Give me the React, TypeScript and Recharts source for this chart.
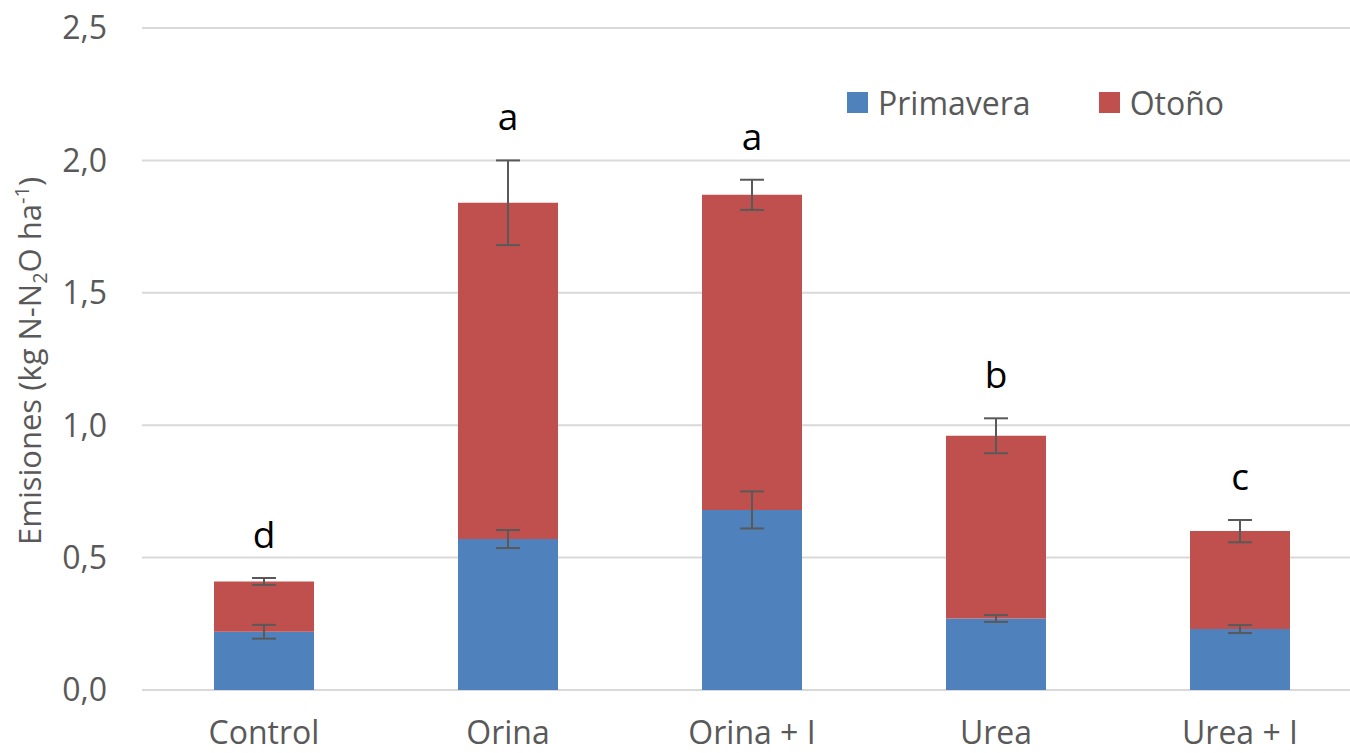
import React from "react";
import { BarChart, Bar, XAxis, YAxis, CartesianGrid, ErrorBar, LabelList, Legend } from "recharts";

const categories = ["Control", "Orina", "Orina + I", "Urea", "Urea + I"];
const primavera = [0.22, 0.57, 0.68, 0.27, 0.23];
const otono = [0.19, 1.27, 1.19, 0.69, 0.37];
const primaveraErr = [0.026, 0.034, 0.07, 0.013, 0.015];
const otonoErr = [0.013, 0.16, 0.057, 0.066, 0.042];
const letters = ["d", "a", "a", "b", "c"];
const yTicks = [0, 0.5, 1, 1.5, 2, 2.5];

const data = categories.map((name, i) => ({
  name,
  primavera: primavera[i],
  otono: otono[i],
  primaveraErr: primaveraErr[i],
  otonoErr: otonoErr[i],
  letter: letters[i],
}));

const FONT = "'Open Sans', sans-serif";
const GREY = "#595959";
const PLOT_H = 662;
const pxPerUnit = PLOT_H / 2.5;

const XTick = (props: any) => {
  const { x, y, payload } = props;
  return (
    <text x={x} y={y + 54} textAnchor="middle" fill={GREY} fontSize={32} fontFamily={FONT}>
      {payload.value}
    </text>
  );
};

const YLabel = (props: any) => {
  const vb = props.viewBox || { x: 0, y: 28, height: PLOT_H };
  const cx = vb.x + 41;
  const cy = vb.y + vb.height / 2 + 2;
  return (
    <text
      x={cx}
      y={cy}
      transform={`rotate(-90, ${cx}, ${cy})`}
      textAnchor="middle"
      fill={GREY}
      fontSize={31}
      fontFamily={FONT}
    >
      Emisiones (kg N-N
      <tspan fontSize={20} dy={6}>2</tspan>
      <tspan dy={-6}>O ha</tspan>
      <tspan fontSize={20} dy={-12}>-1</tspan>
      <tspan dy={12}>)</tspan>
    </text>
  );
};

const LetterLabel = (props: any) => {
  const { x, y, width, index, value } = props;
  const errTop = y - otonoErr[index] * pxPerUnit;
  return (
    <text x={x + width / 2} y={errTop - 30} textAnchor="middle" fill="#000" fontSize={37} fontFamily={FONT}>
      {value}
    </text>
  );
};

const LegendContent = () => (
  <div style={{ display: "flex", alignItems: "center", fontFamily: FONT, fontSize: 32, color: GREY }}>
    <span style={{ width: 21, height: 21, background: "#4f81bd", display: "inline-block", marginRight: 10 }} />
    <span style={{ marginRight: 68 }}>Primavera</span>
    <span style={{ width: 21, height: 21, background: "#c0504d", display: "inline-block", marginRight: 10 }} />
    <span>Otoño</span>
  </div>
);

export default function App() {
  return (
    <div style={{ position: "absolute", left: 0, top: 0, width: 1350, height: 753, overflow: "hidden", background: "#fff" }}>
      <BarChart width={1380} height={753} data={data} margin={{ top: 28, right: 18, bottom: 0, left: 0 }}>
        <CartesianGrid horizontal vertical={false} stroke="#d9d9d9" strokeWidth={2} />
        <XAxis
          xAxisId="edge"
          type="number"
          domain={[0, 5]}
          ticks={[0, 1, 2, 3, 4, 5]}
          tick={false}
          tickSize={10}
          height={0}
          axisLine={{ stroke: "#d9d9d9", strokeWidth: 2 }}
          tickLine={{ stroke: "#d9d9d9", strokeWidth: 2 }}
        />
        <XAxis
          xAxisId="cat"
          dataKey="name"
          height={63}
          axisLine={false}
          tickLine={false}
          tickSize={0}
          tickMargin={0}
          tick={<XTick />}
          interval={0}
        />
        <YAxis
          width={142}
          domain={[0, 2.5]}
          ticks={yTicks}
          axisLine={false}
          tickLine={false}
          tickSize={0}
          tickMargin={35}
          tickFormatter={(v: number) => v.toFixed(1).replace(".", ",")}
          tick={{ fill: GREY, fontSize: 32, fontFamily: FONT }}
          label={<YLabel />}
        />
        <Legend
          layout="horizontal"
          verticalAlign="middle"
          align="center"
          content={<LegendContent />}
          wrapperStyle={{ top: 81, left: 847, width: "auto", height: "auto" }}
        />
        <Bar xAxisId="cat" dataKey="primavera" name="Primavera" stackId="s" fill="#4f81bd" barSize={100} isAnimationActive={false}>
          <ErrorBar dataKey="primaveraErr" width={12} stroke={GREY} strokeWidth={2} />
        </Bar>
        <Bar xAxisId="cat" dataKey="otono" name="Otoño" stackId="s" fill="#c0504d" barSize={100} isAnimationActive={false}>
          <ErrorBar dataKey="otonoErr" width={12} stroke={GREY} strokeWidth={2} />
          <LabelList dataKey="letter" content={<LetterLabel />} />
        </Bar>
      </BarChart>
    </div>
  );
}
